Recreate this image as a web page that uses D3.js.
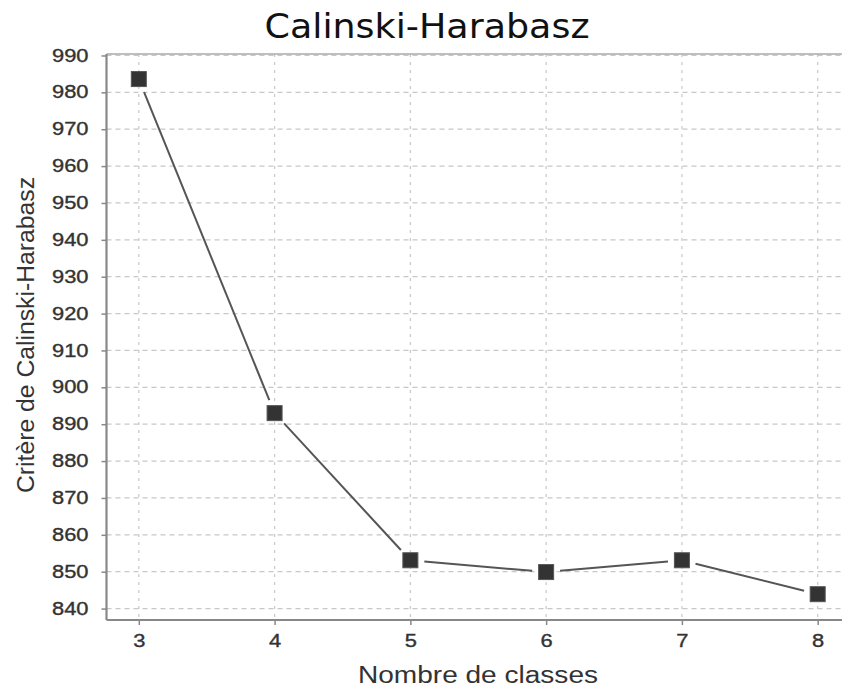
<!DOCTYPE html>
<html><head><meta charset="utf-8">
<script src="https://cdn.jsdelivr.net/npm/d3@7"></script>
<style>body{margin:0;background:#fff;overflow:hidden}svg{display:block}</style>
</head><body>
<script>
const classes = [3, 4, 5, 6, 7, 8];
const chValues = [983.6, 893, 853.1, 849.9, 853.1, 843.9];
const yTicks = [840, 850, 860, 870, 880, 890, 900, 910, 920, 930, 940, 950, 960, 970, 980, 990];
const xTicks = [3, 4, 5, 6, 7, 8];
const title = "Calinski-Harabasz";
const xLabel = "Nombre de classes";
const yLabel = "Critère de Calinski-Harabasz";

const W = 842, H = 688;
const L = 106.5, T = 54, R = 850, B = 620;
const svg = d3.select("body").append("svg").attr("width", W).attr("height", H);

const x = d3.scaleLinear().domain([2.762, 8.238]).range([L, R]);
const y = d3.scaleLinear().domain([836.9, 990.4]).range([B, T]);

// grid
svg.append("g").selectAll("line").data(yTicks).join("line")
  .attr("x1", L).attr("x2", R).attr("y1", d => y(d)).attr("y2", d => y(d))
  .attr("stroke", "#c8c8c8").attr("stroke-width", 1.2).attr("stroke-dasharray", "5,4");
svg.append("g").selectAll("line").data(xTicks).join("line")
  .attr("y1", T).attr("y2", B).attr("x1", d => x(d)).attr("x2", d => x(d))
  .attr("stroke", "#c8c8c8").attr("stroke-width", 1.2).attr("stroke-dasharray", "3,5");

// top border
svg.append("line").attr("x1", L).attr("x2", R).attr("y1", T).attr("y2", T)
  .attr("stroke", "#aaa").attr("stroke-width", 1.5);

// axes
const yAxis = d3.axisLeft(y).tickValues(yTicks).tickSize(5).tickPadding(13).tickFormat(d3.format("d"));
const gy = svg.append("g").attr("transform", `translate(${L},0)`).call(yAxis);
const xAxis = d3.axisBottom(x).tickValues(xTicks).tickSize(5).tickPadding(10).tickFormat(d3.format("d"));
const gx = svg.append("g").attr("transform", `translate(0,${B})`).call(xAxis);
[gy, gx].forEach(g => {
  g.select(".domain").attr("stroke", "#888").attr("stroke-width", 2.2);
  g.selectAll(".tick line").attr("stroke", "#888").attr("stroke-width", 1.5);
  g.selectAll(".tick text").attr("fill", "#333").attr("font-family", "Liberation Sans, Arial, sans-serif")
    .attr("font-size", 17.5).attr("stroke", "#333").attr("stroke-width", 0.35)
    .each(function () {
      const w = this.getComputedTextLength();
      d3.select(this).attr("textLength", w * 1.25).attr("lengthAdjust", "spacingAndGlyphs");
    });
});
gy.select(".domain").attr("d", `M0,${T}V${B}`);
gx.select(".domain").attr("d", `M${L},0H${R}`);

// line segments with gaps near markers
const pts = classes.map((c, i) => [x(c), y(chValues[i])]);
const gap = 14;
const segs = [];
for (let i = 0; i < pts.length - 1; i++) {
  const [x0, y0] = pts[i], [x1, y1] = pts[i + 1];
  const len = Math.hypot(x1 - x0, y1 - y0), ux = (x1 - x0) / len, uy = (y1 - y0) / len;
  segs.push([x0 + ux * gap, y0 + uy * gap, x1 - ux * gap, y1 - uy * gap]);
}
svg.append("g").selectAll("line").data(segs).join("line")
  .attr("x1", d => d[0]).attr("y1", d => d[1]).attr("x2", d => d[2]).attr("y2", d => d[3])
  .attr("stroke", "#555").attr("stroke-width", 2);

// markers
const ms = 15;
svg.append("g").selectAll("rect").data(classes).join("rect")
  .attr("x", (d) => x(d) - ms / 2).attr("y", (d, i) => y(chValues[i]) - ms / 2)
  .attr("width", ms).attr("height", ms)
  .attr("fill", "#333").attr("stroke", "#555").attr("stroke-width", 1);

// title & labels
svg.append("text").attr("x", 427).attr("y", 38).attr("text-anchor", "middle")
  .attr("font-family", "DejaVu Sans, Verdana, sans-serif").attr("font-size", 33).attr("fill", "#111")
  .attr("textLength", 325).attr("lengthAdjust", "spacingAndGlyphs")
  .text(title);
svg.append("text").attr("x", 478).attr("y", 683).attr("text-anchor", "middle")
  .attr("font-family", "Liberation Sans, Arial, sans-serif").attr("font-size", 23.5).attr("fill", "#333")
  .attr("textLength", 240).attr("lengthAdjust", "spacingAndGlyphs")
  .text(xLabel);
svg.append("text").attr("transform", "translate(33.5,335) rotate(-90)").attr("text-anchor", "middle")
  .attr("font-family", "Liberation Sans, Arial, sans-serif").attr("font-size", 23).attr("fill", "#333")
  .attr("textLength", 316).attr("lengthAdjust", "spacingAndGlyphs")
  .text(yLabel);
</script>
</body></html>
